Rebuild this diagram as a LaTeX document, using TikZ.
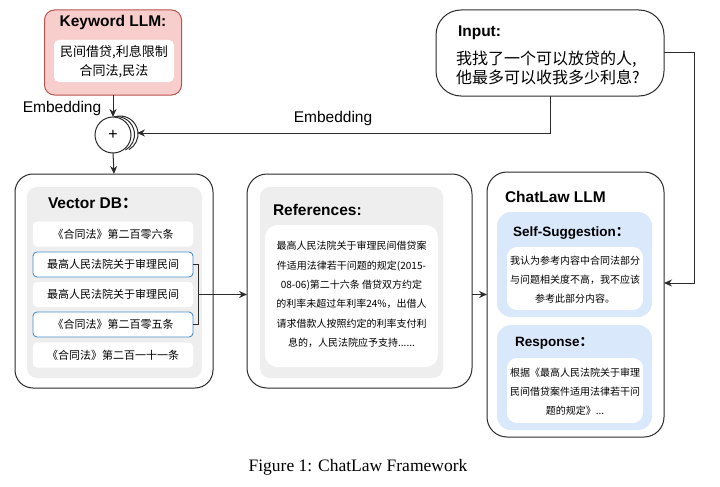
\documentclass[tikz,border=0pt]{standalone}
\usepackage{fontspec}
\setmainfont{Liberation Sans}
\newfontfamily\cjk{Noto Sans CJK SC}
\newfontfamily\capfont{Liberation Serif}
\usetikzlibrary{arrows.meta}
\definecolor{kwfill}{HTML}{F8CECC}
\definecolor{kwdraw}{HTML}{B85450}
\definecolor{grayin}{HTML}{EEEEEE}
\definecolor{bluein}{HTML}{DAE8FC}
\definecolor{blueedge}{HTML}{4A8EC8}
\definecolor{edge}{HTML}{2B2B2B}
\begin{document}
\begin{tikzpicture}[x=1pt,y=-1pt,
  every node/.style={inner sep=0pt, outer sep=0pt},
  sz/.style 2 args={minimum width=#1, minimum height=#2},
  outerbox/.style={rectangle, draw=edge, line width=1pt, fill=white, rounded corners=20pt},
  graybox/.style={rectangle, fill=grayin, rounded corners=10pt},
  whitebox/.style={rectangle, fill=white, rounded corners=8pt},
  bluebox/.style={rectangle, fill=bluein, rounded corners=14pt},
  titlefont/.style={font=\fontsize{15.5}{18}\selectfont\bfseries, anchor=west},
  subtitle/.style={font=\fontsize{13.5}{16}\selectfont\bfseries, anchor=west},
  rowbox/.style={rectangle, fill=white, rounded corners=4pt, sz={160pt}{25pt}, font=\cjk\fontsize{11}{13}\selectfont},
  hirow/.style={rowbox, draw=blueedge, line width=0.9pt},
  smalltext/.style={font=\cjk\fontsize{10}{19}\selectfont, align=center},
  conn/.style={draw=edge, line width=1pt},
  arr/.style={conn, -{Stealth[length=8pt,width=7pt]}}
]
\useasboundingbox (0,0) rectangle (720,487);

% Keyword LLM
\node[outerbox, draw=kwdraw, fill=kwfill, rounded corners=10pt, sz={137pt}{85pt}] (kw) at (113,52.5) {};
\node[whitebox, rounded corners=5pt, sz={120pt}{42pt}] (kwin) at (114,61) {};
\node[font=\fontsize{15.5}{18}\selectfont\bfseries] (kwt) at (113,22) {Keyword LLM:};
\node[font=\cjk\fontsize{13}{19}\selectfont, align=center] (kwtx) at (114,61.5) {民间借贷,利息限制\\合同法,民法};
\node[font=\fontsize{15.5}{18}\selectfont] (emb1) at (62,108) {Embedding};

% plus circle
\coordinate (pc) at (113,135);
\draw[conn] ([shift={(7,-1)}]pc) ++(262:18) arc[start angle=262, end angle=420, radius=18];
\draw[conn] ([shift={(3.5,-0.5)}]pc) ++(262:18) arc[start angle=262, end angle=420, radius=18];
\node[circle, draw=edge, line width=1pt, fill=white, minimum size=36pt] (plus) at (pc) {\fontsize{16}{18}\selectfont +};

% Input
\node[outerbox, rounded corners=25pt, sz={228pt}{86pt}] (inp) at (550,53) {};
\node[titlefont] (inpt) at (458,33) {Input:};
\node[font=\cjk\fontsize{16}{19}\selectfont, align=left, anchor=west] (inptx) at (456,67.5) {我找了一个可以放贷的人,\\他最多可以收我多少利息?};

% Vector DB
\node[outerbox, rounded corners=18pt, sz={198pt}{214pt}] (vdb) at (114,281) {};
\node[graybox, sz={175pt}{191pt}] (vdbin) at (114.5,282.5) {};
\node[titlefont] (vdbt) at (48,203) {Vector DB{\cjk ：}};
\node[rowbox] (r1) at (113,234) {《合同法》第二百零六条};
\node[hirow] (r2) at (113,264.5) {最高人民法院关于审理民间};
\node[rowbox] (r3) at (113,294.5) {最高人民法院关于审理民间};
\node[hirow] (r4) at (113,324.5) {《合同法》第二百零五条};
\node[rowbox] (r5) at (113,355) {《合同法》第二百一十一条};

% References
\node[outerbox, sz={225pt}{214pt}] (ref) at (359.5,281) {};
\node[graybox, sz={183pt}{191pt}] (refin) at (351.5,282.5) {};
\node[titlefont] (reft) at (273,210) {References:};
\node[whitebox, rounded corners=12pt, sz={173pt}{142pt}] (refw) at (351.5,296) {};
\node[font=\cjk\fontsize{10}{19.4}\selectfont, align=center] (reftx) at (351.5,294.5)
  {最高人民法院关于审理民间借贷案\\件适用法律若干问题的规定(2015-\\08-06)第二十六条 借贷双方约定\\的利率未超过年利率24\%，出借人\\请求借款人按照约定的利率支付利\\息的，人民法院应予支持......};

% ChatLaw LLM
\node[outerbox, sz={177pt}{265pt}] (chat) at (575.5,304.5) {};
\node[titlefont] (chatt) at (505,197) {ChatLaw LLM};
\node[bluebox, sz={155pt}{105pt}] (ss) at (574.5,264.5) {};
\node[subtitle] (sst) at (513,233) {Self-Suggestion{\cjk ：}};
\node[whitebox, rounded corners=10pt, sz={136pt}{63pt}] (ssw) at (575,278.5) {};
\node[smalltext] (sstx) at (575,280) {我认为参考内容中合同法部分\\与问题相关度不高，我不应该\\参考此部分内容。};
\node[bluebox, sz={155pt}{105pt}] (rs) at (574.5,377.5) {};
\node[subtitle] (rst) at (515,343) {Response{\cjk ：}};
\node[whitebox, rounded corners=10pt, sz={136pt}{65pt}] (rsw) at (575,390.5) {};
\node[smalltext] (rstx) at (575,392) {根据《最高人民法院关于审理\\民间借贷案件适用法律若干问\\题的规定》...};

% connectors
\coordinate (emtip) at (137,133);
\coordinate (br) at (198,294.5);
\coordinate (chatin) at (664,283);
\draw[arr] (kw.south) -- (plus.north);
\draw[arr] (plus.south) -- (vdb.north);
\draw[arr] (inp.south) |- (emtip);
\node[font=\fontsize{15.5}{18}\selectfont] (emb2) at (333,118) {Embedding};
\draw[arr] (inp.east) -- ++(30,0) |- (chatin);
\draw[conn] (r2.east) -- ++(5,0) |- (r4.east);
\draw[arr] (br) -- (ref.west |- br);
\draw[arr] (ref.east |- br) -- (chat.west |- br);

% caption
\node[font=\capfont\fontsize{17.5}{20}\selectfont] (cap) at (358,467) {Figure 1: ChatLaw Framework};
\end{tikzpicture}
\end{document}
